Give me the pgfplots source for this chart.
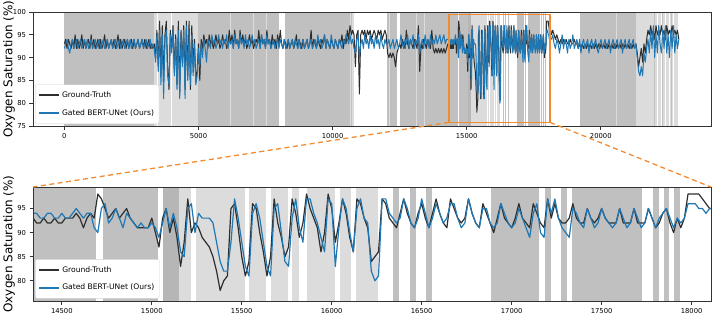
\documentclass[border=0pt]{standalone}
\usepackage{fontspec}
\setmainfont{DejaVu Sans}
\usepackage{pgfplots}
\usepackage{pgfplotstable}
\pgfplotsset{compat=1.18}
\definecolor{darkband}{HTML}{C0C0C0}
\definecolor{lightband}{HTML}{DCDCDC}
\definecolor{overband}{HTML}{B6B6B6}
\definecolor{gtcol}{HTML}{2E2E2E}
\definecolor{predcol}{HTML}{1F77B4}
\definecolor{zoomcol}{HTML}{F28A30}

% top series, x = 50*index (0 ... 14300)
\pgfplotstableread[row sep=\\]{gt bl\\
93 92\\ 94 93\\ 92 94\\ 94 92\\ 93 91\\ 92 93\\ 94 94\\ 92 92\\ 95 93\\ 92 94\\
94 92\\ 92 93\\ 93 94\\ 95 92\\ 92 93\\ 94 94\\ 92 92\\ 93 94\\ 94 92\\ 92 93\\
95 94\\ 92 92\\ 94 93\\ 92 94\\ 93 92\\ 94 93\\ 92 94\\ 94 92\\ 92 93\\ 93 94\\
95 92\\ 92 93\\ 94 94\\ 92 92\\ 93 93\\ 94 94\\ 92 92\\ 94 93\\ 92 94\\ 93 92\\
95 93\\ 92 94\\ 94 92\\ 92 93\\ 93 94\\ 94 92\\ 92 93\\ 94 94\\ 92 92\\ 93 94\\
94 92\\ 92 93\\ 94 94\\ 92 92\\ 93 93\\ 94 94\\ 92 92\\ 93 93\\ 94 94\\ 92 92\\
94 93\\ 92 94\\ 93 92\\ 94 93\\ 92 94\\ 93 92\\ 92 93\\
93 92\\ 90 89\\ 96 95\\ 88 87\\ 98 96\\ 86 84\\ 97 95\\ 85 81\\ 95 94\\ 98 96\\
88 86\\ 83 84\\ 96 95\\ 92 91\\ 97 96\\ 87 86\\ 95 94\\ 84 83\\ 98 96\\ 82 81\\
96 95\\ 89 88\\ 97 96\\ 83 81\\ 98 97\\ 86 85\\ 98 96\\ 83 84\\ 97 95\\ 88 86\\
94 93\\ 85 84\\
87 86\\ 93 92\\ 85 88\\ 94 93\\ 92 90\\ 95 94\\ 93 92\\ 94 89\\ 92 94\\ 95 93\\
93 92\\ 94 95\\ 92 93\\ 93 94\\ 95 92\\ 93 93\\ 94 95\\ 92 93\\ 93 94\\ 95 92\\
93 94\\ 94 93\\ 92 95\\ 93 92\\ 96 94\\ 93 93\\ 95 94\\ 92 92\\ 96 95\\ 93 93\\
94 94\\ 92 92\\ 96 95\\ 93 93\\ 95 94\\ 93 92\\ 94 95\\ 92 93\\ 93 94\\ 95 92\\
93 93\\ 94 95\\ 92 93\\ 93 94\\ 94 92\\ 93 93\\ 96 94\\ 92 92\\ 95 95\\ 93 93\\
94 94\\ 92 92\\ 96 95\\ 93 93\\ 94 94\\ 92 92\\ 95 93\\ 93 94\\ 94 92\\ 92 93\\ 95 94\\ 93 92\\
96 94\\ 93 93\\ 92 92\\ 94 94\\ 93 92\\ 92 93\\ 94 94\\ 92 92\\ 93 93\\ 94 94\\
92 92\\ 93 94\\ 95 93\\ 92 92\\ 94 94\\ 93 92\\ 92 93\\ 94 94\\ 92 92\\ 93 93\\
94 94\\ 92 92\\ 93 93\\ 96 94\\ 92 92\\ 94 93\\ 93 94\\ 92 92\\ 94 95\\ 93 93\\
92 94\\ 94 92\\ 93 93\\ 95 95\\ 92 92\\ 94 94\\ 93 93\\ 92 92\\ 94 95\\ 93 93\\
92 92\\ 94 94\\ 93 93\\ 92 92\\ 94 94\\ 93 93\\ 95 92\\ 92 94\\ 94 93\\ 93 95\\ 96 94\\ 94 93\\ 97 95\\ 95 93\\
96 94\\ 95 92\\ 88 91\\ 95 94\\ 96 95\\ 82 90\\ 95 93\\ 96 94\\ 95 92\\ 96 95\\
94 93\\ 96 94\\ 95 92\\ 96 95\\ 94 93\\ 95 94\\ 96 92\\ 95 95\\ 94 93\\ 96 94\\
95 92\\ 96 95\\ 94 93\\ 95 92\\ 96 94\\ 95 93\\
91 93\\ 90 94\\ 91 92\\ 90 93\\ 91 94\\ 90 92\\ 88 93\\ 91 94\\ 92 92\\ 93 93\\
92 95\\ 94 93\\ 93 92\\ 92 94\\ 96 93\\ 93 95\\ 92 92\\ 94 94\\ 93 93\\ 92 95\\
94 92\\ 93 94\\ 92 93\\ 97 95\\ 87 91\\ 93 93\\ 92 94\\ 94 92\\ 93 95\\ 92 93\\
94 94\\ 93 92\\ 92 95\\ 96 93\\ 92 94\\ 91 93\\ 92 95\\ 91 93\\ 92 94\\ 91 95\\
92 93\\ 91 94\\ 92 95\\ 91 93\\ 92 94\\ 93 94\\
}\topA

% detail series, x = 14300 + 20*index (14300 ... 18160)
\pgfplotstableread[row sep=\\]{gt bl\\
93 94\\ 93 94\\ 93 94\\ 92 94\\ 92 93\\ 93 93\\ 92 94\\ 92 94\\ 93 93\\ 92 93\\
92 94\\ 93 93\\ 93 93\\ 93 94\\ 94 95\\ 93 94\\ 91 93\\ 93 94\\ 94 94\\ 93 91\\
98 90\\ 97 95\\ 95 96\\ 93 92\\ 94 93\\ 95 95\\ 93 93\\ 94 91\\ 95 94\\ 93 93\\
92 92\\ 91 91\\ 91 92\\ 91 91\\ 91 91\\ 93 92\\ 90 91\\ 87 89\\ 93 92\\ 95 95\\
90 91\\ 93 94\\ 89 91\\ 83 86\\ 88 85\\ 97 95\\ 90 96\\ 92 90\\ 91 94\\ 89 93\\
88 93\\ 87 93\\ 85 92\\ 82 88\\ 78 84\\ 80 82\\ 81 82\\ 95 88\\ 96 97\\ 91 93\\
85 88\\ 81 83\\ 84 81\\ 96 94\\ 95 96\\ 90 93\\ 86 88\\ 81 83\\ 85 81\\ 97 95\\
92 96\\ 89 90\\ 85 84\\ 87 83\\ 97 93\\ 94 97\\ 89 91\\ 92 88\\ 98 97\\ 95 97\\
93 94\\ 91 92\\ 86 89\\ 90 86\\ 98 97\\ 95 96\\ 88 83\\ 92 91\\ 97 97\\ 94 95\\
89 90\\ 86 86\\ 97 95\\ 96 97\\ 93 93\\ 91 92\\ 84 82\\ 85 80\\ 86 81\\ 97 97\\
96 97\\ 93 94\\ 92 93\\ 91 92\\ 94 93\\ 97 97\\ 94 95\\ 92 92\\ 91 91\\ 94 93\\
96 97\\ 93 94\\ 91 91\\ 94 93\\ 97 96\\ 94 94\\ 92 92\\ 91 93\\ 97 96\\ 95 96\\
93 93\\ 92 91\\ 93 92\\ 97 97\\ 94 94\\ 92 92\\ 91 91\\ 96 95\\ 94 95\\ 92 92\\
90 91\\ 93 92\\ 96 96\\ 93 94\\ 92 92\\ 91 91\\ 93 92\\ 96 95\\ 93 93\\ 92 91\\
91 89\\ 96 94\\ 94 96\\ 92 90\\ 91 89\\ 97 97\\ 93 94\\ 96 97\\ 93 93\\ 92 91\\
92 90\\ 93 89\\ 96 95\\ 93 94\\ 92 92\\ 92 91\\ 95 95\\ 93 93\\ 92 91\\ 93 92\\
95 95\\ 93 93\\ 92 92\\ 92 91\\ 92 92\\ 95 95\\ 92 93\\ 92 91\\ 92 92\\ 95 95\\
92 93\\ 92 91\\ 92 92\\ 95 95\\ 93 93\\ 91 91\\ 92 93\\ 94 94\\ 95 95\\ 92 93\\
90 91\\ 93 93\\ 91 92\\ 93 93\\ 98 96\\ 98 96\\ 98 96\\ 98 95\\ 97 95\\ 96 94\\
95 95\\ 95 95\\ 96 94\\ 95 94\\
}\detail

% top series, x = 18160 + 50*index (18160 ... 22910)
\pgfplotstableread[row sep=\\]{gt bl\\
95 94\\ 96 95\\ 95 93\\ 94 92\\ 95 94\\ 94 93\\ 93 91\\ 94 93\\ 93 95\\ 94 92\\
93 94\\ 94 93\\ 93 91\\ 93 94\\ 94 92\\ 93 93\\ 93 95\\ 94 92\\ 93 93\\ 93 94\\
92 92\\ 93 94\\ 92 91\\ 93 93\\ 92 94\\ 93 92\\ 92 93\\ 93 94\\ 92 91\\ 93 93\\
92 94\\ 93 92\\ 92 93\\ 93 94\\ 92 92\\ 93 91\\ 92 93\\ 93 94\\ 92 92\\ 93 93\\
92 94\\ 93 92\\ 92 93\\ 93 94\\ 92 91\\ 93 93\\ 92 94\\ 93 92\\ 92 93\\ 93 94\\
92 92\\ 93 93\\ 92 94\\ 93 91\\ 92 93\\ 93 94\\ 92 92\\ 93 93\\ 92 94\\ 93 92\\
92 93\\ 93 94\\ 92 92\\ 93 93\\ 91 90\\ 88 87\\ 90 86\\ 92 88\\ 89 86\\ 93 91\\
91 89\\ 94 92\\ 96 94\\ 95 91\\ 97 96\\ 95 92\\ 96 97\\ 94 90\\ 97 95\\ 95 91\\
96 97\\ 95 93\\ 97 91\\ 95 96\\ 96 92\\ 94 97\\ 97 91\\ 95 95\\ 96 90\\ 95 96\\
97 92\\ 95 97\\ 96 91\\ 95 95\\ 96 92\\ 94 94\\
}\topB

\newcommand{\band}[3]{\addplot[fill=#3, draw=none, forget plot] coordinates {(#1,70) (#2,70) (#2,101) (#1,101)} -- cycle;}
\newcommand{\allbands}{%
\band{0}{3352}{darkband}
\band{3352}{3452}{lightband}
\band{3500}{3973}{lightband}
\band{4022}{4966}{lightband}
\band{4966}{8020}{darkband}
\band{8230}{10715}{darkband}
\band{10715}{10800}{lightband}
\band{12020}{12390}{darkband}
\band{12514}{14692}{darkband}
\band{14728}{15034}{darkband}
\band{15060}{15150}{overband}
\band{15150}{15220}{lightband}
\band{15248}{15517}{lightband}
\band{15541}{15634}{lightband}
\band{15660}{15758}{lightband}
\band{15780}{15817}{lightband}
\band{15863}{16018}{lightband}
\band{16045}{16105}{lightband}
\band{16134}{16259}{lightband}
\band{16342}{16375}{darkband}
\band{16435}{16467}{darkband}
\band{16524}{16557}{darkband}
\band{16884}{17154}{darkband}
\band{17186}{17218}{darkband}
\band{17273}{17307}{darkband}
\band{17335}{17724}{darkband}
\band{17785}{17817}{darkband}
\band{17844}{17876}{darkband}
\band{17904}{17934}{darkband}
\band{19218}{21330}{darkband}
\band{21330}{21940}{lightband}
\band{21965}{22090}{lightband}
\band{22115}{22240}{lightband}
\band{22265}{22390}{lightband}
\band{22415}{22560}{lightband}
\band{22585}{22700}{lightband}
\band{22725}{22880}{lightband}
\band{6160}{6200}{lightband}
\band{7030}{7070}{lightband}
\band{7530}{7570}{lightband}
\band{10640}{10680}{lightband}
\band{12090}{12120}{lightband}
\band{13100}{13135}{lightband}
\band{13400}{13435}{lightband}
\band{20560}{20600}{lightband}
\band{22000}{22030}{darkband}
\band{22300}{22330}{darkband}
\band{22620}{22650}{darkband}
}

\pgfplotsset{
  myaxis/.style={
    scale only axis, width=678pt, height=114pt,
    axis on top,
    axis line style={black!80, line width=0.8pt},
    tick style={black!80, line width=0.8pt},
    major tick length=3.5pt, tick align=outside, tick pos=left,
    scaled x ticks=false, scaled y ticks=false,
    tick label style={font=\fontsize{6.8}{8}\selectfont},
    /pgf/number format/assume math mode=true,
    /pgf/number format/set thousands separator={},
    ylabel={Oxygen Saturation (\%)},
    ylabel style={font=\fontsize{12}{14}\selectfont, at={(axis description cs:-0.0354,0.5)}, anchor=center},
    legend cell align=left,
    legend image code/.code={\draw[#1] (0pt,0pt) -- (20pt,0pt);},
    legend style={anchor=south west,
      fill=white, draw=black!18, rounded corners=2pt,
      font=\fontsize{7.6}{9}\selectfont, inner xsep=3pt, inner ysep=5pt, row sep=6.5pt},
  },
  gtline/.style={gtcol, line width=1pt, line join=round, mark=none},
  predline/.style={predcol, line width=1pt, line join=round, mark=none},
}

\begin{document}
\begin{tikzpicture}
\path[use as bounding box] (0pt,0pt) rectangle (714pt,-314pt);
\begin{axis}[myaxis, name=top, at={(33pt,-126pt)}, anchor=south west,
  legend style={at={(axis description cs:0.003,0.0175)}},
  xmin=-1170, xmax=24110, ymin=75, ymax=100,
  xtick={0,5000,10000,15000,20000}, ytick={75,80,85,90,95,100}]
\allbands
\addplot[gtline, forget plot] table[x expr=\coordindex*50, y=gt] {\topA};
\addplot[gtline, forget plot] table[x expr=14300+\coordindex*20, y=gt] {\detail};
\addplot[gtline, forget plot] table[x expr=18160+\coordindex*50, y=gt] {\topB};
\addplot[predline, forget plot] table[x expr=\coordindex*50, y=bl] {\topA};
\addplot[predline, forget plot] table[x expr=14300+\coordindex*20, y=bl] {\detail};
\addplot[predline, forget plot] table[x expr=18160+\coordindex*50, y=bl] {\topB};
\addplot[zoomcol, line width=1.3pt, forget plot] coordinates {(14340,75.8) (18108,75.8) (18108,99.46) (14340,99.46)} -- cycle;
\addlegendimage{gtcol, line width=1.8pt}
\addlegendentry{Ground-Truth}
\addlegendimage{predcol, line width=1.8pt}
\addlegendentry{Gated BERT-UNet (Ours)}
\coordinate (zl) at (axis cs:14340,75.8);
\coordinate (zr) at (axis cs:18108,75.8);
\end{axis}
\begin{axis}[myaxis, name=bot, at={(33pt,-301pt)}, anchor=south west,
  legend style={at={(axis description cs:0.003,0.0215)}},
  xmin=14340, xmax=18108, ymin=75.8, ymax=99.46,
  xtick={14500,15000,15500,16000,16500,17000,17500,18000}, ytick={80,85,90,95}]
\allbands
\addplot[gtline, line width=1.2pt, forget plot] table[x expr=14300+\coordindex*20, y=gt] {\detail};
\addplot[predline, line width=1.2pt, forget plot] table[x expr=14300+\coordindex*20, y=bl] {\detail};
\addlegendimage{gtcol, line width=2pt}
\addlegendentry{Ground-Truth}
\addlegendimage{predcol, line width=1.8pt}
\addlegendentry{Gated BERT-UNet (Ours)}
\end{axis}
\draw[zoomcol, line width=1.3pt, dash pattern=on 5pt off 3.5pt] (zl) -- (bot.north west);
\draw[zoomcol, line width=1.3pt, dash pattern=on 5pt off 3.5pt] (zr) -- (bot.north east);
\end{tikzpicture}
\end{document}
